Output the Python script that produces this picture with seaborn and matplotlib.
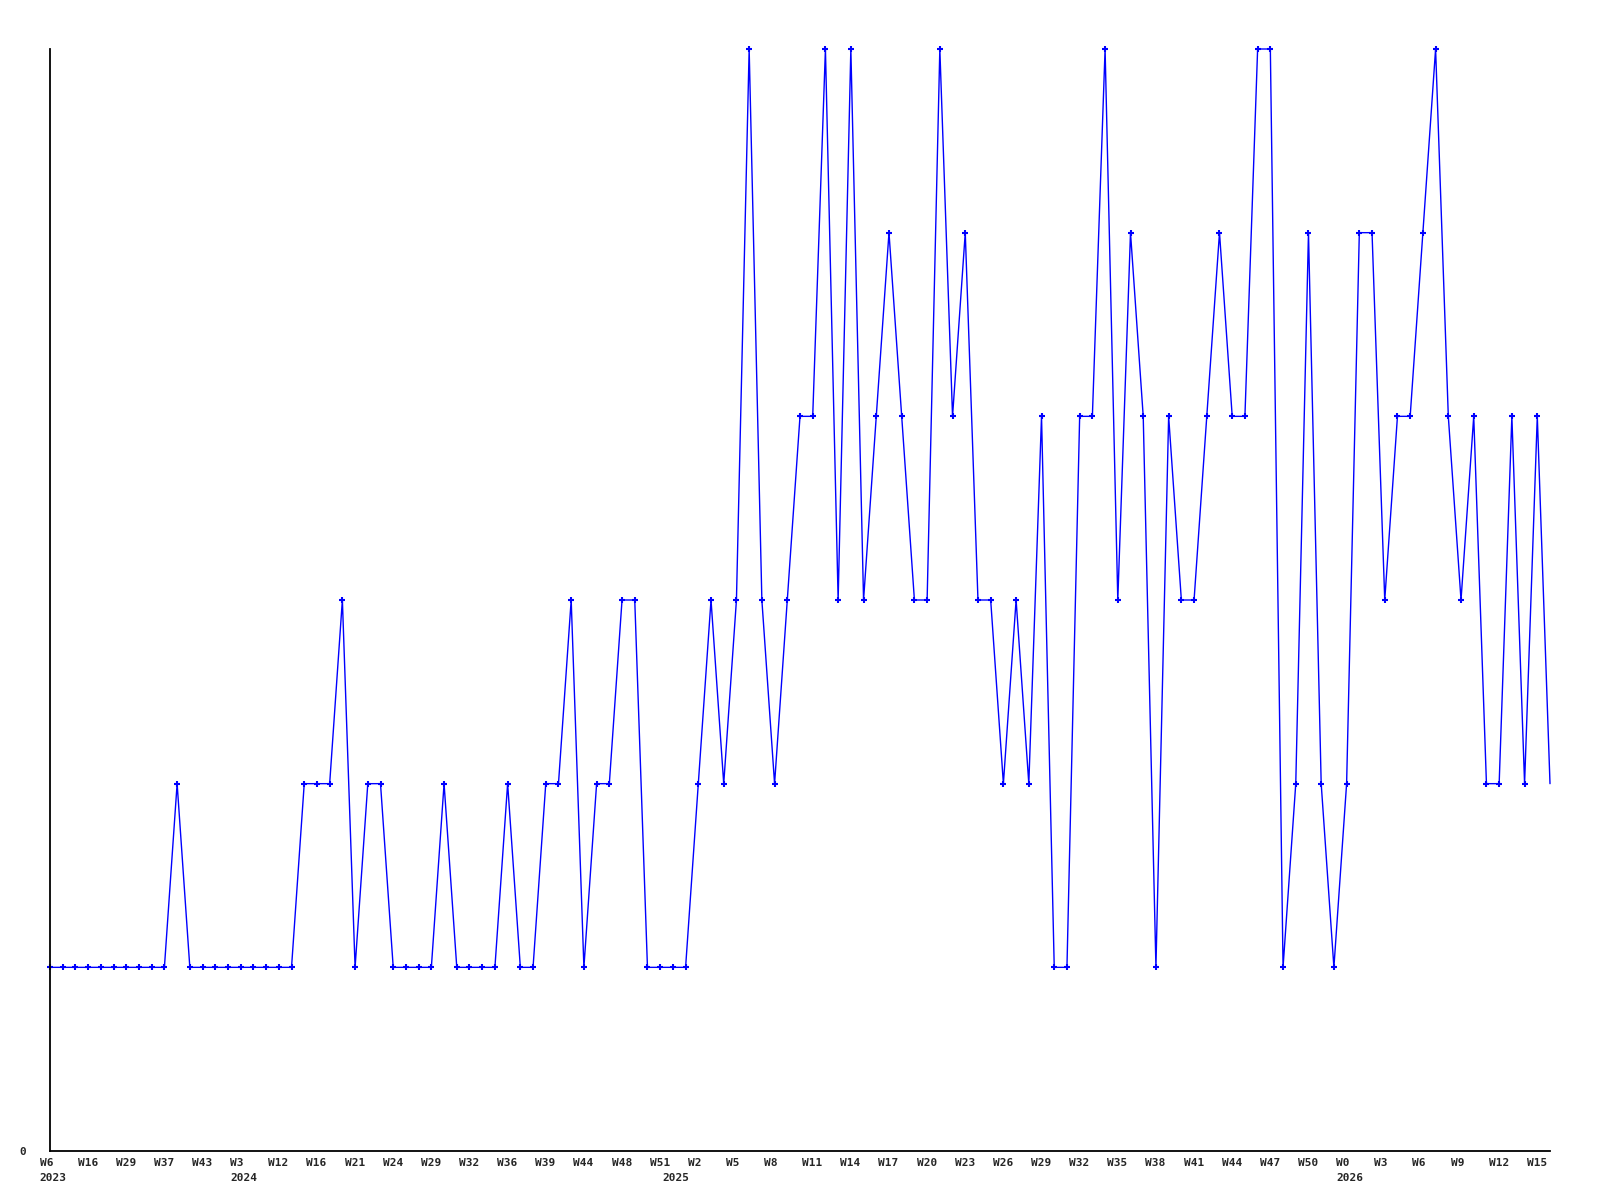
import numpy as np
import pandas as pd
import matplotlib
matplotlib.use("Agg")
import matplotlib.pyplot as plt
import matplotlib.transforms as mtrans
import seaborn as sns

# weekly counts, one value per point
values = [1, 1, 1, 1, 1, 1, 1, 1, 1, 1,
          2, 1, 1, 1, 1, 1, 1, 1, 1, 1,
          2, 2, 2, 3, 1, 2, 2, 1, 1, 1,
          1, 2, 1, 1, 1, 1, 2, 1, 1, 2,
          2, 3, 1, 2, 2, 3, 3, 1, 1, 1,
          1, 2, 3, 2, 3, 6, 3, 2, 3, 4,
          4, 6, 3, 6, 3, 4, 5, 4, 3, 3,
          6, 4, 5, 3, 3, 2, 3, 2, 4, 1,
          1, 4, 4, 6, 3, 5, 4, 1, 4, 3,
          3, 4, 5, 4, 4, 6, 6, 1, 2, 5,
          2, 1, 2, 5, 5, 3, 4, 4, 5, 6,
          4, 3, 4, 2, 2, 4, 2, 4, 2]

# x tick labels, every third point
week_labels = ["W6", "W16", "W29", "W37", "W43", "W3", "W12", "W16", "W21", "W24",
               "W29", "W32", "W36", "W39", "W44", "W48", "W51", "W2", "W5", "W8",
               "W11", "W14", "W17", "W20", "W23", "W26", "W29", "W32", "W35", "W38",
               "W41", "W44", "W47", "W50", "W0", "W3", "W6", "W9", "W12", "W15"]

# year labels and the point where each one sits
year_labels = ["2023", "2024", "2025", "2026"]
year_pos = [0, 15, 49, 102]

df = pd.DataFrame({"idx": np.arange(len(values)), "count": values})

sns.set_style("white")
plt.rcParams["font.family"] = ["DejaVu Sans Mono", "DejaVu Sans"]

fig = plt.figure(figsize=(16, 12), dpi=100)
ax = fig.add_axes([50 / 1600, 49 / 1200, 1500 / 1600, 1102 / 1200])

sns.lineplot(data=df, x="idx", y="count", ax=ax, color="#0000ff", linewidth=1.0,
             marker="+", markersize=4, markeredgewidth=1.5,
             markeredgecolor="#0000ff", markerfacecolor="#0000ff",
             markevery=list(range(len(values) - 1)), clip_on=False)

ax.set_xlim(0, len(values) - 1)
ax.set_ylim(0, 6)
ax.set_xlabel("")
ax.set_ylabel("")

for s in ["top", "right"]:
    ax.spines[s].set_visible(False)
for s in ["left", "bottom"]:
    ax.spines[s].set_color("black")
    ax.spines[s].set_linewidth(1.3)

ax.set_xticks([])
ax.set_yticks([0])
ax.set_yticklabels(["0"], fontsize=8, fontweight="bold")
ax.tick_params(axis="y", length=0, pad=17)

# labels start a bit left of their point
trans = mtrans.blended_transform_factory(ax.transData, ax.transAxes)
trans = mtrans.offset_copy(trans, fig=fig, x=-10.5, y=-7, units="dots")
for i, lab in enumerate(week_labels):
    ax.text(i * 3, 0, lab, transform=trans, ha="left", va="top",
            fontsize=8, fontweight="bold")

trans2 = mtrans.offset_copy(trans, fig=fig, x=0, y=-15, units="dots")
for p, lab in zip(year_pos, year_labels):
    ax.text(p, 0, lab, transform=trans2, ha="left", va="top",
            fontsize=8, fontweight="bold")

fig.savefig("out.png", dpi=100)
